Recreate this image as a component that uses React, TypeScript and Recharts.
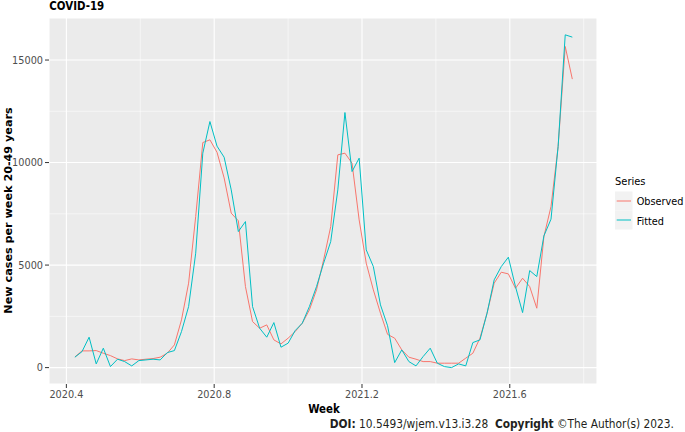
import { LineChart, Line, XAxis, YAxis, CartesianGrid, ReferenceLine } from "recharts";

const FONT = "'DejaVu Sans Condensed', 'DejaVu Sans', sans-serif";
const FONT_WIDE = "'DejaVu Sans', sans-serif";

// week numbers covered by the series
const weeks2020 = [
  22, 23, 24, 25, 26, 27, 28, 29, 30, 31, 32, 33, 34, 35, 36, 37, 38, 39, 40, 41, 42, 43, 44, 45, 46,
  47, 48, 49, 50, 51, 52,
];
const weeks2021 = [
  1, 2, 3, 4, 5, 6, 7, 8, 9, 10, 11, 12, 13, 14, 15, 16, 17, 18, 19, 20, 21, 22, 23, 24, 25, 26, 27,
  28, 29, 30, 31, 32, 33, 34, 35, 36, 37, 38, 39, 40,
];

const observed = [
  520, 815, 815, 830, 700, 585, 424, 341, 424, 375, 410, 440, 507, 700, 1107, 2327, 4117, 7366,
  10976, 11108, 10500, 9250, 7532, 7160, 3951, 2244, 1920, 2083, 1351, 1156, 1434, 1756, 2166, 2815,
  3790, 5254, 6878, 10376, 10458, 9970, 7205, 5093, 3790, 2654, 1620, 1434, 863, 507, 410, 293, 293,
  215, 215, 215, 215, 459, 700, 1434, 2654, 4117, 4652, 4570, 3870, 4359, 3951, 2896, 6391, 7854,
  10780, 15659, 14070,
];

const fitted = [
  507, 780, 1483, 180, 946, 49, 410, 293, 83, 341, 375, 410, 375, 732, 829, 1756, 2976, 5580, 10458,
  12000, 10800, 10260, 8668, 6634, 7122, 2976, 1920, 1483, 2195, 995, 1190, 1805, 2166, 2976, 3951,
  5093, 6146, 8668, 12440, 9561, 10214, 5741, 4927, 3059, 2040, 244, 863, 293, 83, 537, 946, 215, 49,
  0, 180, 83, 1220, 1351, 2654, 4278, 4927, 5385, 3951, 2683, 4732, 4439, 6424, 7239, 10780, 16229,
  16117,
];

const xTicks = [2020.4, 2020.8, 2021.2, 2021.6];
const xMinor = [2020.6, 2021.0, 2021.4, 2021.8];
const yTicks = [0, 5000, 10000, 15000];
const yMinor = [2500, 7500, 12500];

const weekPos = [...weeks2020.map((w) => 2020 + w / 52), ...weeks2021.map((w) => 2021 + w / 52)];
const data = weekPos.map((x, i) => ({ x, observed: observed[i], fitted: fitted[i] }));

const OBS = "#F8766D";
const FIT = "#00BFC4";

export default function App() {
  return (
    <div
      style={{
        position: "absolute",
        left: 0,
        top: 0,
        width: 685,
        height: 432,
        background: "#fff",
        fontFamily: FONT,
      }}
    >
      <LineChart width={685} height={432} data={data} margin={{ top: 18, right: 88, bottom: 0, left: 0 }}>
        <CartesianGrid fill="#EBEBEB" stroke="#FFFFFF" strokeWidth={1.1} />
        {xMinor.map((v) => (
          <ReferenceLine key={"vx" + v} x={v} stroke="#FFFFFF" strokeWidth={0.55} />
        ))}
        {yMinor.map((v) => (
          <ReferenceLine key={"hy" + v} y={v} stroke="#FFFFFF" strokeWidth={0.55} />
        ))}
        <XAxis
          type="number"
          dataKey="x"
          domain={[2020.353, 2021.836]}
          ticks={xTicks}
          interval={0}
          allowDataOverflow
          axisLine={false}
          tickLine={{ stroke: "#333333" }}
          tickSize={4}
          tickMargin={2}
          height={48}
          tick={{ fontSize: 10.8, fill: "#4D4D4D", fontFamily: FONT }}
          tickFormatter={(v: number) => v.toFixed(1)}
        />
        <YAxis
          type="number"
          domain={[-800, 17050]}
          ticks={yTicks}
          interval={0}
          allowDataOverflow
          axisLine={false}
          tickLine={{ stroke: "#333333" }}
          tickSize={4}
          tickMargin={2}
          width={49}
          tick={{ fontSize: 10.8, fill: "#4D4D4D", fontFamily: FONT }}
        />
        <Line
          type="linear"
          dataKey="observed"
          stroke={OBS}
          strokeWidth={1}
          dot={false}
          isAnimationActive={false}
        />
        <Line
          type="linear"
          dataKey="fitted"
          stroke={FIT}
          strokeWidth={1}
          dot={false}
          isAnimationActive={false}
        />
      </LineChart>
      <svg
        width={685}
        height={432}
        style={{ position: "absolute", left: 0, top: 0, pointerEvents: "none" }}
        fontFamily={FONT}
      >
        <text x={49.3} y={9.5} fontSize={11.4} fontWeight="bold" fill="#000">
          COVID-19
        </text>
        <text
          transform="translate(11.5, 210.5) rotate(-90)"
          textAnchor="middle"
          fontSize={11.2}
          fontWeight="bold"
          fontFamily={FONT_WIDE}
          fill="#000"
        >
          New cases per week 20-49 years
        </text>
        <text x={324} y={413} textAnchor="middle" fontSize={11.4} fontWeight="bold" fill="#000">
          Week
        </text>

        {/* legend */}
        <text x={615} y={185} fontSize={11} fill="#000">
          Series
        </text>
        <rect x={615} y={191.5} width={17.5} height={19} fill="#F2F2F2" />
        <rect x={615} y={210.5} width={17.5} height={19} fill="#F2F2F2" />
        <line x1={616.7} x2={631} y1={201} y2={201} stroke={OBS} strokeWidth={1} />
        <line x1={616.7} x2={631} y1={220} y2={220} stroke={FIT} strokeWidth={1} />
        <text x={636.7} y={205} fontSize={10.8} fill="#000">
          Observed
        </text>
        <text x={636.7} y={224.5} fontSize={10.8} fill="#000">
          Fitted
        </text>

        <text x={674} y={428} textAnchor="end" fontSize={11.8} fill="#231F20">
          <tspan fontWeight="bold">DOI:</tspan> 10.5493/wjem.v13.i3.28{"\u00A0\u00A0"}
          <tspan fontWeight="bold">Copyright</tspan> ©The Author(s) 2023.
        </text>
      </svg>
    </div>
  );
}
